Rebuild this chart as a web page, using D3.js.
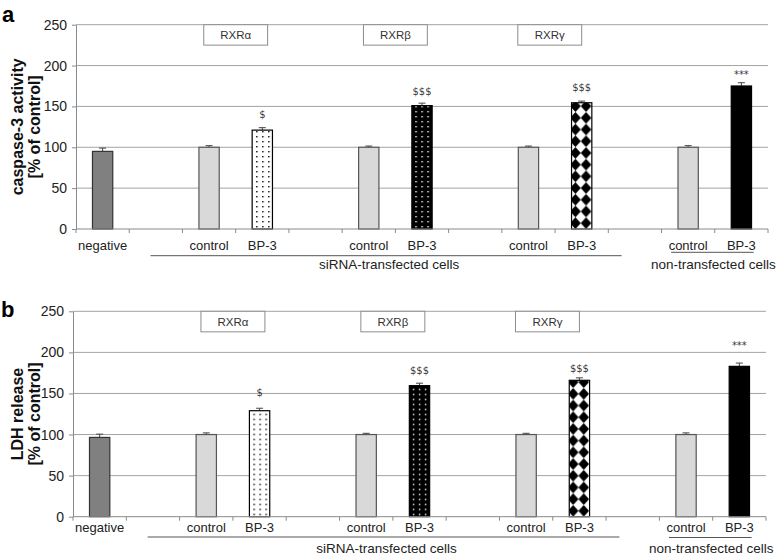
<!DOCTYPE html>
<html><head><meta charset="utf-8">
<script src="https://cdn.jsdelivr.net/npm/d3@7"></script>
<style>body{margin:0;background:#fff;} svg{display:block;font-family:"Liberation Sans",Arial,sans-serif;}</style>
</head><body><svg id="c" width="777" height="558"></svg>
<script>
// ---- data ----
const categories = ["negative","","control","BP-3","","control","BP-3","","control","BP-3","","control","BP-3"];
const barKinds   = ["negative","gap","control","dots","gap","control","whiteDots","gap","control","diamonds","gap","control","black"];
const caspaseValues = [95,null,100,121,null,100,151,null,100,154.5,null,100,175];
const caspaseErrors = [4,null,2,3,null,1.5,3,null,1.5,2,null,2,4];
const ldhValues  = [96.5,null,100,129,null,100,159.5,null,100,166,null,100,183];
const ldhErrors  = [4,null,2,3,null,1.5,3,null,1.5,3,null,2,4];
const sigMarks   = ["","","","$","","","$$$","","","$$$","","","***"];
const caspaseSigValues = [null,null,null,140,null,null,169,null,null,173,null,null,189];
const ldhSigValues     = [null,null,null,152,null,null,178.5,null,null,181,null,null,208.5];
const yTicks = [0,50,100,150,200,250];
const receptorLabels = ["RXRα","RXRβ","RXRγ"];
const groupLabels = ["siRNA-transfected cells","non-transfected cells"];
const yTitlesA = ["caspase-3 activity","[% of control]"];
const yTitlesB = ["LDH release","[% of control]"];

const svg = d3.select("#c");
const defs = svg.append("defs");

function drawPanel(o) {
  const n = categories.length;
  const x = d3.scaleBand().domain(d3.range(n)).range([o.left, o.right]).paddingInner(0.6).paddingOuter(0.3);
  const slot = d3.scaleLinear().domain([0, n]).range([o.left, o.right]);
  const y = d3.scaleLinear().domain([0, 250]).range([o.bottom, o.top]);
  const bw = x.bandwidth();
  const g = svg.append("g");

  // patterns
  const pid = k => k + "-" + o.id;
  const dotsBar = barKinds.indexOf("dots"), wdBar = barKinds.indexOf("whiteDots"), diaBar = barKinds.indexOf("diamonds");
  let p = defs.append("pattern").attr("id", pid("dots")).attr("patternUnits","userSpaceOnUse")
    .attr("x", x(dotsBar) + 2.5).attr("y", o.bottom).attr("width", 6).attr("height", 5);
  p.append("rect").attr("width",6).attr("height",5).attr("fill","#fff");
  p.append("rect").attr("x",2).attr("y",2).attr("width",1.4).attr("height",1.4).attr("fill","#000");
  p = defs.append("pattern").attr("id", pid("whiteDots")).attr("patternUnits","userSpaceOnUse")
    .attr("x", x(wdBar) + 2).attr("y", o.bottom).attr("width", 6).attr("height", 5);
  p.append("rect").attr("width",6).attr("height",5).attr("fill","#000");
  p.append("rect").attr("x",2).attr("y",2).attr("width",1.4).attr("height",1.4).attr("fill","#fff");
  const dw = 10.6, dh = 11.7;
  p = defs.append("pattern").attr("id", pid("diamonds")).attr("patternUnits","userSpaceOnUse")
    .attr("x", x(diaBar) - 0.9).attr("y", o.bottom).attr("width", dw).attr("height", dh);
  p.append("rect").attr("width",dw).attr("height",dh).attr("fill","#fff");
  p.append("polygon").attr("points",`${dw/2},0 ${dw},${dh/2} ${dw/2},${dh} 0,${dh/2}`).attr("fill","#000");

  // gridlines
  g.append("g").selectAll("line").data(yTicks.filter(t => t > 0)).join("line")
    .attr("x1", o.left).attr("x2", o.right).attr("y1", d => y(d)).attr("y2", d => y(d))
    .attr("stroke", "#a3a3a3").attr("stroke-width", 1);

  // y axis
  const ya = g.append("g").attr("transform", `translate(${o.left},0)`)
    .call(d3.axisLeft(y).tickValues(yTicks).tickSize(4).tickSizeOuter(0).tickPadding(5));
  ya.select(".domain").attr("stroke", "#8a8a8a");
  ya.selectAll(".tick line").attr("stroke", "#8a8a8a");
  ya.selectAll(".tick text").attr("font-size", 14).attr("fill", "#222").attr("font-family", "Liberation Sans, Arial, sans-serif");

  // bars
  const fills = {negative:"#808080", control:"#d9d9d9", dots:`url(#${pid("dots")})`, whiteDots:`url(#${pid("whiteDots")})`, diamonds:`url(#${pid("diamonds")})`, black:"#000"};
  const strokes = {negative:"#333", control:"#555", dots:"#000", whiteDots:"#000", diamonds:"#000", black:"#000"};
  const idx = d3.range(n).filter(i => o.values[i] != null);
  // error bars
  const eg = g.append("g").attr("stroke", "#444").attr("stroke-width", 1);
  idx.forEach(i => {
    const cx = x(i) + bw / 2;
    eg.append("line").attr("x1", cx).attr("x2", cx).attr("y1", y(o.values[i])).attr("y2", y(o.values[i] + o.errors[i]));
    eg.append("line").attr("x1", cx - 3.5).attr("x2", cx + 3.5).attr("y1", y(o.values[i] + o.errors[i])).attr("y2", y(o.values[i] + o.errors[i]));
  });
  g.append("g").selectAll("rect").data(idx).join("rect")
    .attr("x", i => x(i) + 0.5).attr("width", bw - 1)
    .attr("y", i => y(o.values[i])).attr("height", i => y(0) - y(o.values[i]))
    .attr("fill", i => fills[barKinds[i]]).attr("stroke", i => strokes[barKinds[i]]).attr("stroke-width", 1.2);

  // x axis
  g.append("line").attr("x1", o.left).attr("x2", o.right).attr("y1", y(0)).attr("y2", y(0)).attr("stroke", "#8a8a8a");
  g.append("g").selectAll("line").data(d3.range(n + 1)).join("line")
    .attr("x1", d => slot(d)).attr("x2", d => slot(d)).attr("y1", y(0)).attr("y2", y(0) + 4).attr("stroke", "#8a8a8a");

  // category labels
  g.append("g").selectAll("text").data(d3.range(n)).join("text")
    .attr("x", i => x(i) + bw / 2).attr("y", o.catY).attr("text-anchor", "middle")
    .attr("font-size", 13).attr("fill", "#222").text(i => categories[i]);

  // significance marks
  g.append("g").selectAll("text").data(d3.range(n).filter(i => sigMarks[i])).join("text")
    .attr("x", i => x(i) + bw / 2).attr("y", i => y(o.sig[i])).attr("dy", "0.35em")
    .attr("text-anchor", "middle").attr("font-size", 11).attr("fill", "#3a3a3a")
    .style("font-family", "'DejaVu Sans Condensed','Liberation Sans Narrow',sans-serif").text(i => sigMarks[i]);

  // receptor boxes (centered at the boundary between control and BP-3 slots)
  const boxCenters = [slot(3), slot(6), slot(9) - 0.1 * x.step()];
  const boxW = 1.2 * x.step(), boxH = y(0) - y(25);
  receptorLabels.forEach((lab, k) => {
    g.append("rect").attr("x", boxCenters[k] - boxW / 2).attr("y", y(250)).attr("width", boxW).attr("height", boxH)
      .attr("fill", "#fff").attr("stroke", "#8c8c8c").attr("stroke-width", 1);
    g.append("text").attr("x", boxCenters[k]).attr("y", y(250) + boxH / 2).attr("dy", "0.36em")
      .attr("text-anchor", "middle").attr("font-size", 11.5).attr("fill", "#333").text(lab);
  });

  // group lines and labels
  const spans = [[1.4, 10.25, o.lineY], [11.18, 12.73, o.nonLineY]];
  spans.forEach((s, k) => {
    g.append("line").attr("x1", slot(s[0])).attr("x2", slot(s[1])).attr("y1", s[2]).attr("y2", s[2])
      .attr("stroke", "#555").attr("stroke-width", 1);
    g.append("text").attr("x", (slot(s[0]) + slot(s[1])) / 2 + (k === 0 ? 3 : 1)).attr("y", o.groupY)
      .attr("text-anchor", "middle").attr("font-size", 13.5).attr("fill", "#222").text(groupLabels[k]);
  });

  // y titles
  const cy = (o.top + o.bottom) / 2;
  [22.5, 40].forEach((bx, k) => {
    g.append("text").attr("transform", `translate(${bx},${cy}) rotate(-90)`).attr("text-anchor", "middle")
      .attr("font-size", 16).attr("font-weight", "bold").attr("fill", "#111").text(o.titles[k]);
  });

  // panel letter
  g.append("text").attr("x", o.letterX).attr("y", o.letterY).attr("font-size", 22).attr("font-weight", "bold")
    .attr("fill", "#000").text(o.letter);
}

drawPanel({id:"a", left:76, right:768, top:24.7, bottom:229, values:caspaseValues, errors:caspaseErrors, sig:caspaseSigValues,
  catY:249.5, lineY:255.7, nonLineY:252.3, groupY:269, titles:yTitlesA, letter:"a", letterX:2, letterY:22});
drawPanel({id:"b", left:73, right:766, top:311.3, bottom:516.7, values:ldhValues, errors:ldhErrors, sig:ldhSigValues,
  catY:531.5, lineY:537, nonLineY:537.5, groupY:552.5, titles:yTitlesB, letter:"b", letterX:1, letterY:317});
</script></body></html>
